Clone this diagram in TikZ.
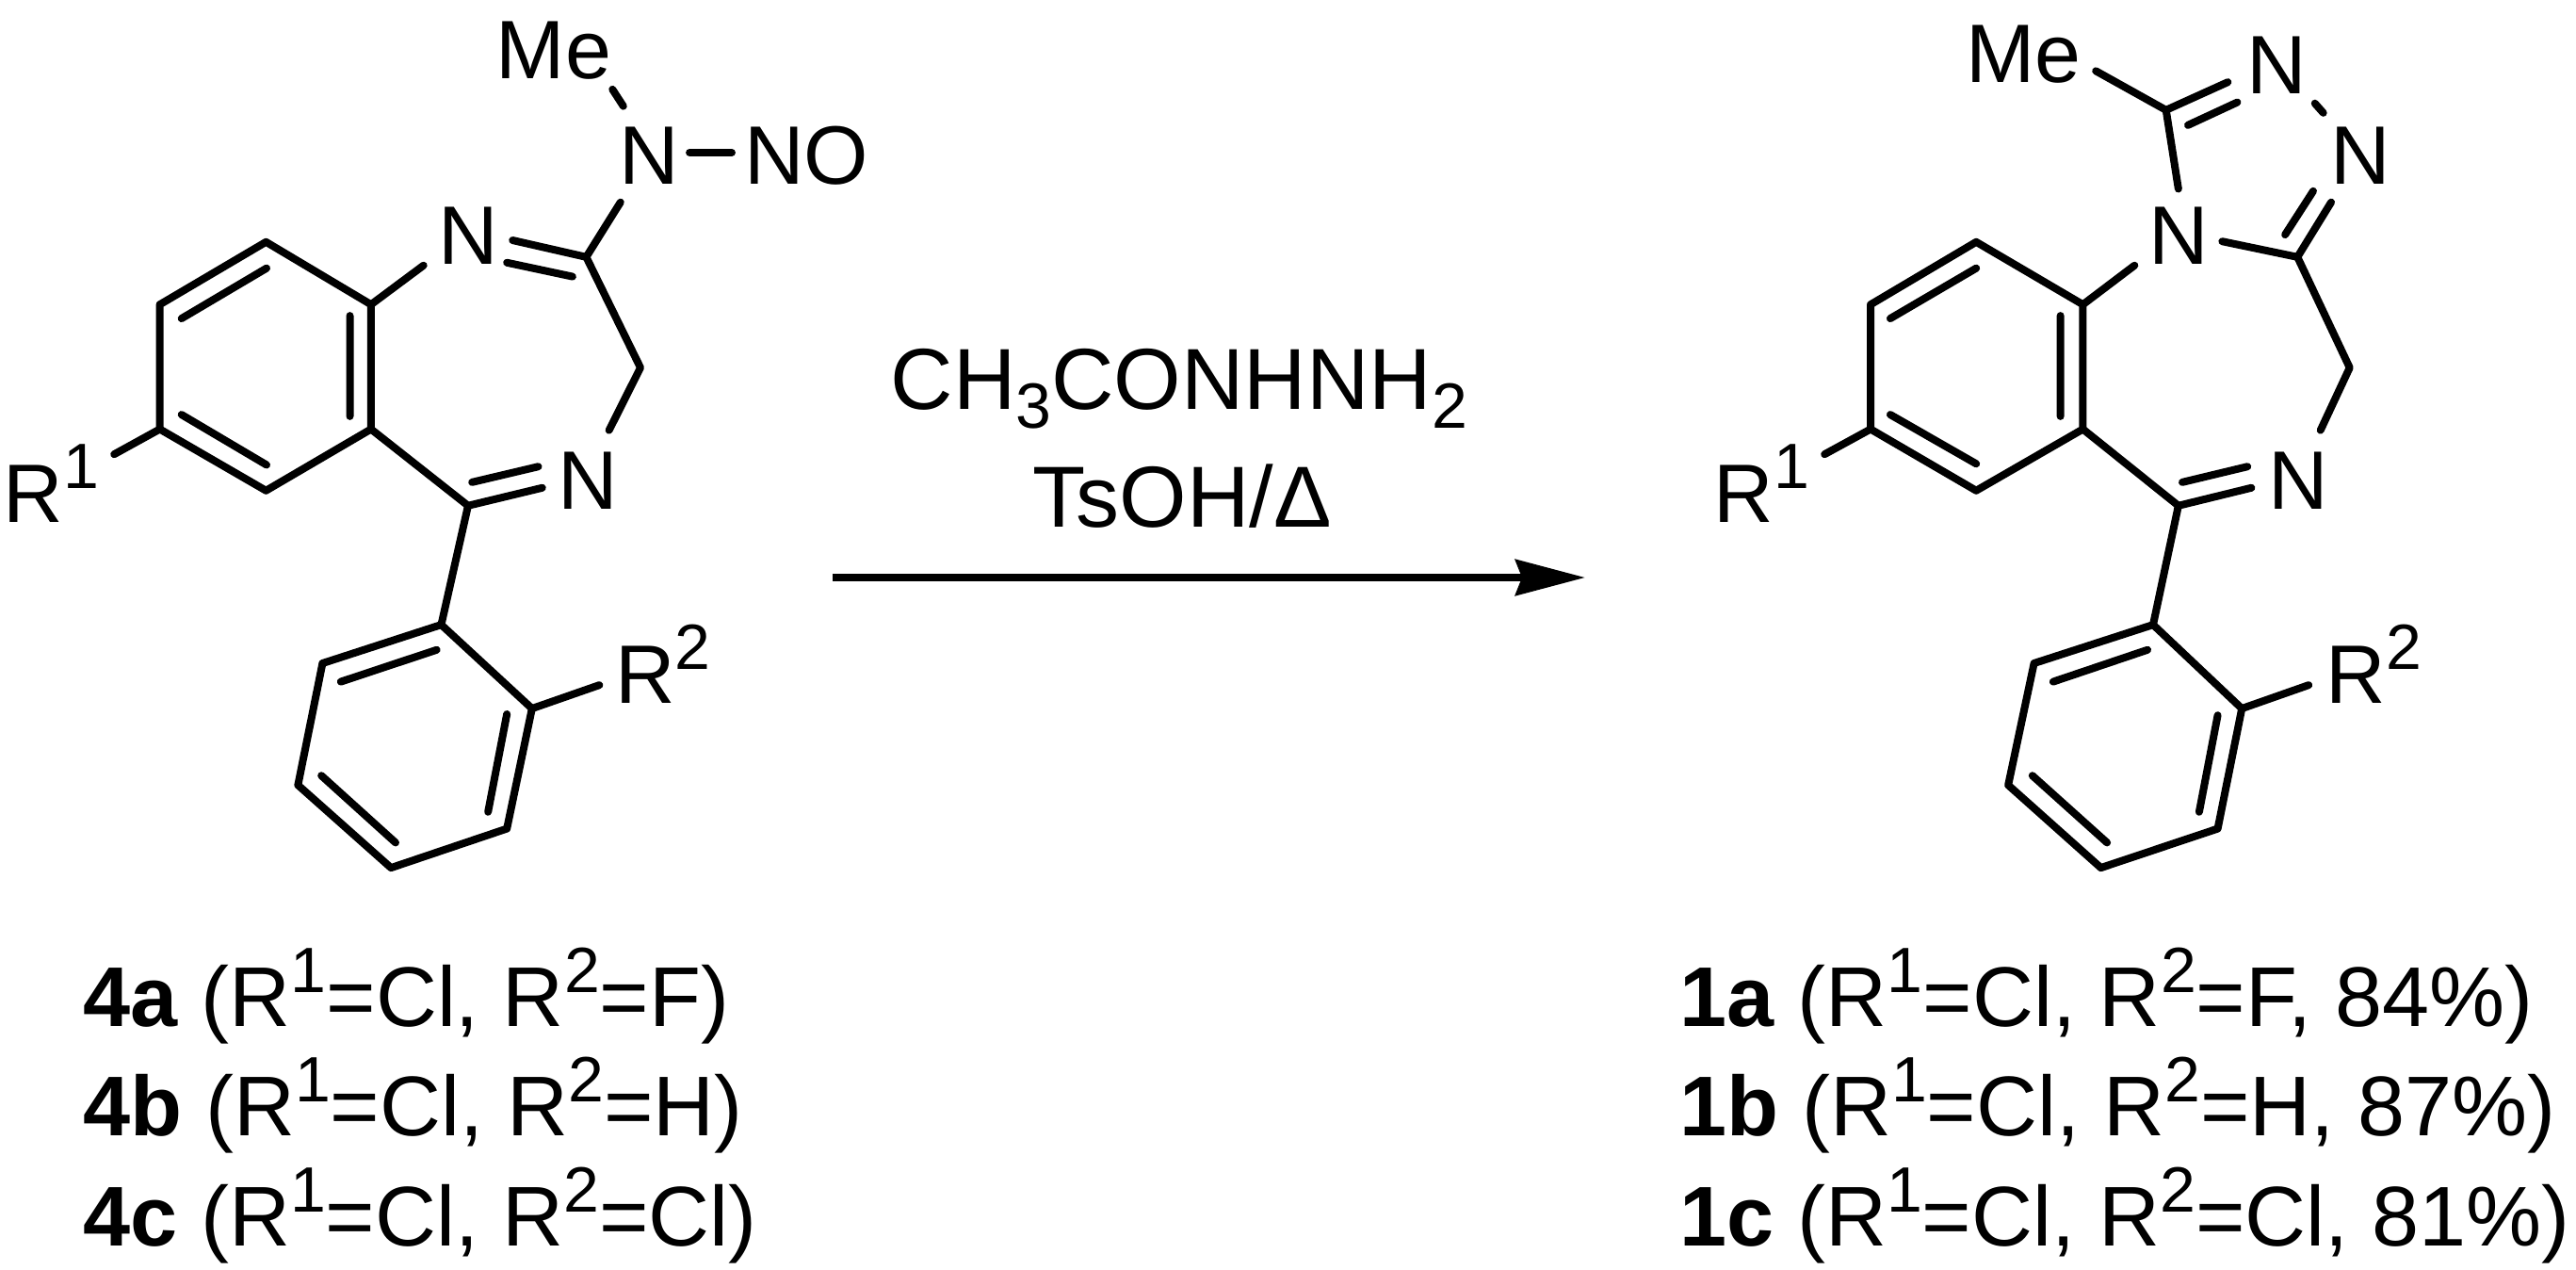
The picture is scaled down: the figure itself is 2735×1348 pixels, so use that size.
\documentclass[tikz,border=0pt]{standalone}
\usepackage{fontspec}
\setmainfont{Liberation Sans}
\usetikzlibrary{arrows.meta}
\newcommand{\supr}[1]{{\fontsize{34pt}{34pt}\selectfont\raisebox{18pt}{#1}}}
\newcommand{\subr}[1]{{\fontsize{34pt}{34pt}\selectfont\raisebox{-10pt}{#1}}}
\tikzset{
  bond/.style={line width=4pt,line cap=round,line join=round,black},
  atom/.style={inner sep=0pt,outer sep=0pt,anchor=base,font=\fontsize{44pt}{44pt}\selectfont},
  atomw/.style={atom,anchor=base west},
  txt/.style={inner sep=0pt,outer sep=0pt,anchor=base west,font=\fontsize{45pt}{45pt}\selectfont},
  txtc/.style={txt,anchor=base,font=\fontsize{46pt}{46pt}\selectfont},
  rxn/.style={line width=4pt,black,-{Stealth[length=37pt,width=19pt,inset=3.5pt]}}
}
\begin{document}
\begin{tikzpicture}[x=0.5pt,y=-0.5pt]
\useasboundingbox (0,0) rectangle (2735,1348);
% ---------- left molecule
\begin{scope}[x=0.30303pt,y=-0.29656pt]
\coordinate (la) at (466,433); \coordinate (lb) at (650,545); \coordinate (lc) at (650,768);
\coordinate (ld) at (466,878); \coordinate (le) at (280,768); \coordinate (lf) at (280,545);
\coordinate (lC2) at (1027,460); \coordinate (lC3) at (1122,658); \coordinate (lC5) at (820,905);
\coordinate (lp1) at (773,1118); \coordinate (lp2) at (932,1268); \coordinate (lp3) at (888,1483);
\coordinate (lp4) at (685,1553); \coordinate (lp5) at (522,1405); \coordinate (lp6) at (565,1187);
\node[atom] (lMe) at (970,140) {Me};
\node[atom] (lNa) at (1137,330) {N};
\node[atom] (lNO) at (1413,330) {NO};
\node[atom] (lN1) at (820,473) {N};
\node[atom] (lN4) at (1030,912) {N};
\node[atomw] (lR1) at (6,935) {R\supr{1}};
\node[atomw] (lR2) at (1078,1258) {R\supr{2}};
\coordinate (lMeE) at (1073,160); \coordinate (lNaT) at (1092,190);
\coordinate (lNaR) at (1208,273); \coordinate (lNOL) at (1282,273);
\coordinate (lNaB) at (1087,362); \coordinate (lN1B) at (742,475);
\coordinate (lN1R) at (898,430); \coordinate (lN1i) at (888,470); \coordinate (lC2i) at (1003,495);
\coordinate (lN4T) at (1067,770); \coordinate (lN4L) at (950,873);
\coordinate (lC5i) at (827,863); \coordinate (lN4i) at (943,835);
\coordinate (lR1E) at (200,813); \coordinate (lR2E) at (1050,1226);
\draw[bond] (la)--(lb)--(lc)--(ld)--(le)--(lf)--cycle;
\draw[bond] (318,570)--(467,480) (613,565)--(613,745) (318,742)--(467,832);
\draw[bond] (lp1)--(lp2)--(lp3)--(lp4)--(lp5)--(lp6)--cycle;
\draw[bond] (597,1220)--(765,1163) (888,1278)--(855,1453) (693,1508)--(563,1388);
\draw[bond] (lb)--(lN1B);
\draw[bond] (lN1R)--(lC2);
\draw[bond] (lN1i)--(lC2i);
\draw[bond] (lC2)--(lC3)--(lN4T);
\draw[bond] (lc)--(lC5)--(lN4L);
\draw[bond] (lC5i)--(lN4i);
\draw[bond] (lC5)--(lp1);
\draw[bond] (lC2)--(lNaB);
\draw[bond] (lMeE)--(lNaT);
\draw[bond] (lNaR)--(lNOL);
\draw[bond] (le)--(lR1E);
\draw[bond] (lp2)--(lR2E);
\end{scope}
% ---------- right molecule
\begin{scope}[shift={(900pt,0pt)},x=0.29815pt,y=-0.29656pt]
\coordinate (ra) at (500,433); \coordinate (rb) at (690,545); \coordinate (rc) at (690,768);
\coordinate (rd) at (500,878); \coordinate (re) at (312,768); \coordinate (rf) at (312,545);
\coordinate (rC3a) at (1072,460); \coordinate (rC4) at (1165,658); \coordinate (rC5) at (860,905);
\coordinate (rC1) at (838,197);
\coordinate (rp1) at (815,1118); \coordinate (rp2) at (973,1268); \coordinate (rp3) at (930,1483);
\coordinate (rp4) at (722,1553); \coordinate (rp5) at (557,1405); \coordinate (rp6) at (603,1187);
\node[atom] (rMe) at (584,148) {Me};
\node[atom] (rN2) at (1035,167) {N};
\node[atom] (rN3) at (1185,330) {N};
\node[atom] (rN10) at (861,473) {N};
\node[atom] (rN4) at (1073,912) {N};
\node[atomw] (rR1) at (33,935) {R\supr{1}};
\node[atomw] (rR2) at (1123,1258) {R\supr{2}};
\coordinate (rMeE) at (713,127);
\coordinate (rN2a) at (948,147); \coordinate (rC1i) at (877,224); \coordinate (rN2i) at (965,183);
\coordinate (rNNa) at (1103,185); \coordinate (rNNb) at (1118,202);
\coordinate (rN3a) at (1132,362); \coordinate (rC3i) at (1050,420); \coordinate (rN3i) at (1100,342);
\coordinate (rN10T) at (860,338); \coordinate (rN10R) at (938,432); \coordinate (rN10L) at (782,475);
\coordinate (rN4T) at (1113,770); \coordinate (rN4L) at (990,873);
\coordinate (rC5i) at (867,863); \coordinate (rN4i) at (983,835);
\coordinate (rR1E) at (230,813); \coordinate (rR2E) at (1092,1226);
\draw[bond] (ra)--(rb)--(rc)--(rd)--(re)--(rf)--cycle;
\draw[bond] (347,570)--(500,480) (650,565)--(650,745) (347,742)--(500,830);
\draw[bond] (rp1)--(rp2)--(rp3)--(rp4)--(rp5)--(rp6)--cycle;
\draw[bond] (637,1220)--(805,1163) (930,1280)--(897,1453) (733,1508)--(600,1388);
\draw[bond] (rb)--(rN10L);
\draw[bond] (rN10R)--(rC3a)--(rC4)--(rN4T);
\draw[bond] (rc)--(rC5)--(rN4L);
\draw[bond] (rC5i)--(rN4i);
\draw[bond] (rC5)--(rp1);
\draw[bond] (rMeE)--(rC1)--(rN2a);
\draw[bond] (rC1i)--(rN2i);
\draw[bond] (rC1)--(rN10T);
\draw[bond] (rNNa)--(rNNb);
\draw[bond] (rC3a)--(rN3a);
\draw[bond] (rC3i)--(rN3i);
\draw[bond] (re)--(rR1E);
\draw[bond] (rp2)--(rR2E);
\end{scope}
% ---------- reaction arrow and reagents
\node[txtc] (reag1) at (1252,434) {CH\subr{3}CONHNH\subr{2}};
\node[txtc] (reag2) at (1255,559) {TsOH/Δ};
\coordinate (arS) at (884,613); \coordinate (arT) at (1683,613);
\draw[rxn] (arS)--(arT);
% ---------- compound lists
\node[txt] (l4a) at (88,1089) {\textbf{4a} (R\supr{1}=Cl, R\supr{2}=F)};
\node[txt] (l4b) at (88,1205) {\textbf{4b} (R\supr{1}=Cl, R\supr{2}=H)};
\node[txt] (l4c) at (88,1322) {\textbf{4c} (R\supr{1}=Cl, R\supr{2}=Cl)};
\node[txt] (l1a) at (1783,1089) {\textbf{1a} (R\supr{1}=Cl, R\supr{2}=F, 84\%)};
\node[txt] (l1b) at (1783,1205) {\textbf{1b} (R\supr{1}=Cl, R\supr{2}=H, 87\%)};
\node[txt] (l1c) at (1783,1322) {\textbf{1c} (R\supr{1}=Cl, R\supr{2}=Cl, 81\%)};
\end{tikzpicture}
\end{document}
